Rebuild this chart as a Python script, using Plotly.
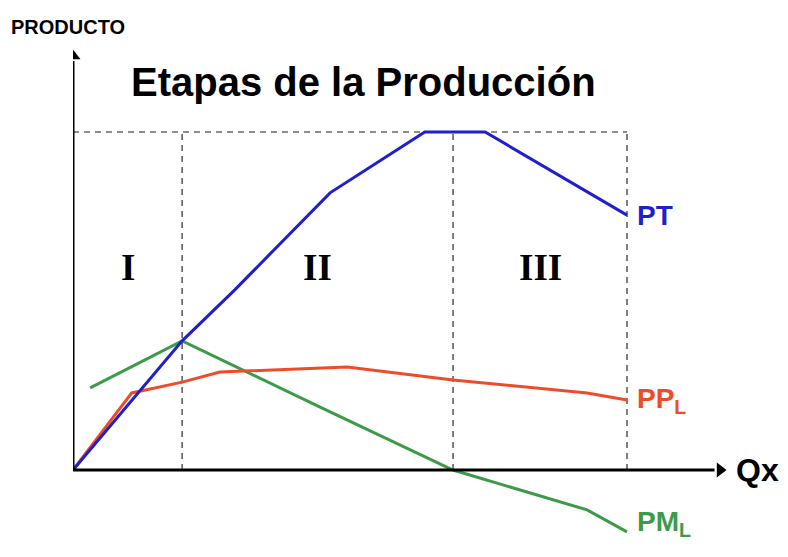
import plotly.graph_objects as go

# ---- data (arbitrary units) ----
pt_x = [0, 1.97, 2.92, 4.64, 6.35, 7.44, 10.0]
pt_y = [0, 3.82, 5.33, 8.20, 10.0, 10.0, 7.54]

ppl_x = [0, 1.06, 1.97, 2.65, 4.95, 6.86, 9.28, 10.0]
ppl_y = [0, 2.28, 2.60, 2.90, 3.05, 2.66, 2.28, 2.07]

pml_x = [0.31, 1.97, 4.46, 6.86, 9.28, 10.0]
pml_y = [2.43, 3.82, 1.86, 0, -1.18, -1.83]

stage_bounds = [0, 1.97, 6.86, 10.0]
stage_labels = ["I", "II", "III"]
pt_max = 10.0

x_range = [0, 12.906]
y_range = [-2.485, 12.515]
x_axis_end = 11.68
y_axis_end = 12.25

BLUE = "#1f1fd0"
RED = "#ee4b2b"
GREEN = "#3c9a48"
SANS = "Liberation Sans, Arial, sans-serif"
SERIF = "Liberation Serif, Times New Roman, serif"

fig = go.Figure()
for xs, ys, c in [(pml_x, pml_y, GREEN), (ppl_x, ppl_y, RED), (pt_x, pt_y, BLUE)]:
    fig.add_trace(go.Scatter(x=xs, y=ys, mode="lines",
                             line=dict(color=c, width=3), hoverinfo="skip",
                             showlegend=False))

# axis arrowheads
fig.add_trace(go.Scatter(x=[x_axis_end], y=[0], mode="markers", hoverinfo="skip",
                         marker=dict(symbol="triangle-right", size=13, color="black",
                                     line=dict(width=0)), showlegend=False))
fig.add_trace(go.Scatter(x=[0], y=[y_axis_end], mode="markers", hoverinfo="skip",
                         marker=dict(symbol="triangle-up", size=13, color="black",
                                     line=dict(width=0)), showlegend=False))

# axis lines
axl = dict(color="black", width=3)
fig.add_shape(type="line", x0=0, x1=x_axis_end - 0.1, y0=0, y1=0, line=axl)
fig.add_shape(type="line", x0=0, x1=0, y0=0, y1=y_axis_end - 0.15, line=axl)

# dashed guides
dash = dict(color="#6a6a6a", width=1.7, dash="6px,5px")
for b in stage_bounds[1:]:
    fig.add_shape(type="line", x0=b, x1=b, y0=0, y1=pt_max, line=dash, layer="below")
fig.add_shape(type="line", x0=0, x1=stage_bounds[-1], y0=pt_max, y1=pt_max,
              line=dash, layer="below")

ann = []
# stage labels
for i, lab in enumerate(stage_labels):
    ann.append(dict(x=(stage_bounds[i] + stage_bounds[i + 1]) / 2, y=6.0,
                    xref="x", yref="y", text="<b>%s</b>" % lab, showarrow=False,
                    font=dict(family=SERIF, size=37, color="black")))

# series labels
ann.append(dict(x=pt_x[-1], y=pt_y[-1], xref="x", yref="y", text="<b>PT</b>",
                showarrow=False, xanchor="left", xshift=8, yshift=0,
                font=dict(family=SANS, size=28, color=BLUE)))
ann.append(dict(x=ppl_x[-1], y=ppl_y[-1], xref="x", yref="y", text="<b>PP<sub>L</sub></b>",
                showarrow=False, xanchor="left", xshift=8, yshift=0,
                font=dict(family=SANS, size=28, color=RED)))
ann.append(dict(x=pml_x[-1], y=pml_y[-1], xref="x", yref="y", text="<b>PM<sub>L</sub></b>",
                showarrow=False, xanchor="left", xshift=8, yshift=8,
                font=dict(family=SANS, size=28, color=GREEN)))

# axis titles
ann.append(dict(x=12.36, y=0, xref="x", yref="y", text="<b>Qx</b>", showarrow=False,
                font=dict(family=SANS, size=32, color="black")))
ann.append(dict(x=-0.007, y=1.039, xref="paper", yref="paper", text="<b>PRODUCTO</b>",
                showarrow=False, xanchor="center", yanchor="middle",
                font=dict(family=SANS, size=20, color="black")))
# title
ann.append(dict(x=0.4056, y=0.931, xref="paper", yref="paper",
                text="<b>Etapas de la Producción</b>", showarrow=False,
                xanchor="center", yanchor="middle",
                font=dict(family=SANS, size=40, color="black")))

# page body has an 8px default margin, so the figure is sized/offset to compensate
fig.update_layout(
    width=780, height=549,
    margin=dict(l=65, r=0, t=39, b=3),
    paper_bgcolor="white", plot_bgcolor="white",
    xaxis=dict(range=x_range, visible=False, fixedrange=True),
    yaxis=dict(range=y_range, visible=False, fixedrange=True),
    annotations=ann,
    showlegend=False,
)

fig.write_html("out.html")
